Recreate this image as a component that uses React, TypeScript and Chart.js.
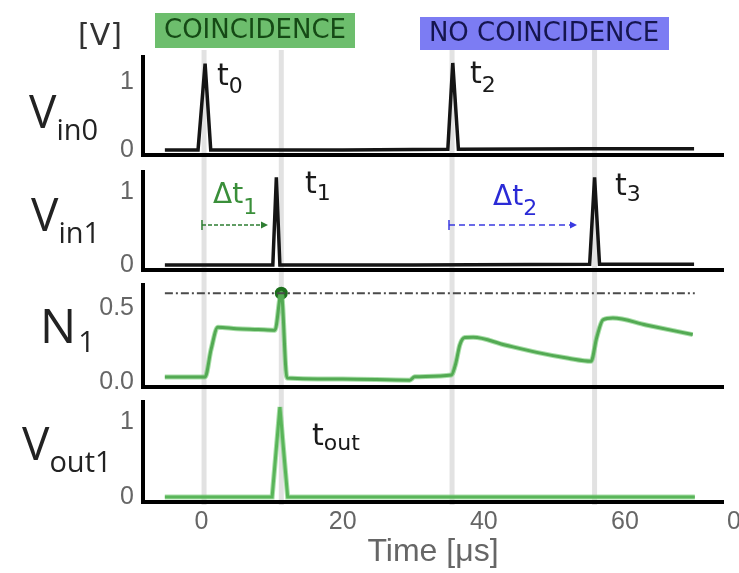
import { useEffect, useRef } from 'react';
import { Chart, registerables } from 'chart.js';

Chart.register(...registerables);

// ---------------- data ----------------
const timeAxisMin = -8.3;
const timeAxisMax = 73.9;
const timeTicks = [0, 20, 40, 60];
// t0, t1, t2, t3 guide lines (µs)
const eventTimes = [0.35, 11.3, 35.5, 55.7];

// V_in0 [V]
const vin0Time = [-5.2, -0.5, 0.5, 1.3, 20, 34.9, 35.6, 36.4, 55, 69.8];
const vin0Volt = [0.0, 0.0, 1.27, 0.0, 0.0, 0.01, 1.28, 0.01, 0.02, 0.02];

// V_in1 [V]
const vin1Time = [-5.2, 10.1, 10.6, 11.1, 30, 55.0, 55.7, 56.4, 69.8];
const vin1Volt = [0.0, 0.0, 1.2, 0.0, 0.0, 0.01, 1.2, 0.01, 0.01];

// N_1 state
const n1Time = [
  -5.2, 0.5, 1.35, 2.3, 5, 8, 10.4, 11.3, 12.1, 20, 29.5, 30.2, 35.4, 36.0, 36.6, 37.3,
  38.5, 43, 47.5, 52, 55.2, 56.0, 56.9, 58.3, 63, 69.6,
];
const n1Value = [
  0.034, 0.034, 0.22, 0.37, 0.36, 0.355, 0.35, 0.6, 0.027, 0.02, 0.012, 0.035, 0.047, 0.12, 0.25, 0.3,
  0.302, 0.25, 0.2, 0.16, 0.14, 0.3, 0.42, 0.432, 0.385, 0.32,
];

// threshold (dash-dot) and threshold crossing dot
const n1ThresholdTime = [-5.2, 69.9];
const n1ThresholdValue = [0.6, 0.6];
const n1CrossTime = [11.3];
const n1CrossValue = [0.6];

// V_out1 [V]
const vout1Time = [-5.2, 10.0, 11.1, 12.2, 69.9];
const vout1Volt = [0.0, 0.0, 1.2, 0.0, 0.0];

const yTicksV = [0, 1];
const yTicksN = [0, 0.5];

// ---------------- layout / style ----------------
const PAGE_W = 739;
const PLOT_LEFT = 143;
const PAD_RIGHT = 16;
const GUIDE_TOP = 50;
const GUIDE_BOTTOM = 505;
const TICK_FONT = "'Liberation Sans', Arial, sans-serif";
const LBL_FONT = "'Open Sans', sans-serif";
const TXT_FONT = "'DejaVu Sans', sans-serif";
const TICK_COLOR = '#666666';
const TICK_SIZE = 25;

const pts = (xs: number[], ys: number[]) => xs.map((x, i) => ({ x, y: ys[i] }));

const black = (data: any) => ({
  data,
  borderColor: '#151515',
  borderWidth: 3.5,
  pointRadius: 0,
  tension: 0,
  fill: false,
});

type Panel = {
  top: number;
  h: number;
  padTop: number;
  padBottom: number;
  yMin: number;
  yMax: number;
  yTicks: number[];
  digits: number;
  xAxisH: number;
  showX: boolean;
  datasets: () => any[];
};

const panels: Panel[] = [
  {
    top: 0, h: 163, padTop: 57, padBottom: 8, yMin: -0.0735, yMax: 1.368, yTicks: yTicksV, digits: 0,
    xAxisH: 0, showX: false,
    datasets: () => [black(pts(vin0Time, vin0Volt))],
  },
  {
    top: 163, h: 115, padTop: 9, padBottom: 8, yMin: -0.068, yMax: 1.274, yTicks: yTicksV, digits: 0,
    xAxisH: 0, showX: false,
    datasets: () => [black(pts(vin1Time, vin1Volt))],
  },
  {
    top: 278, h: 117, padTop: 7, padBottom: 8, yMin: -0.034, yMax: 0.655, yTicks: yTicksN, digits: 1,
    xAxisH: 0, showX: false,
    datasets: () => [
      {
        data: pts(n1ThresholdTime, n1ThresholdValue),
        borderColor: '#4a4a4a', borderWidth: 2, borderDash: [8, 3, 2, 3], pointRadius: 0, fill: false,
      },
      {
        data: pts(n1Time, n1Value),
        borderColor: 'rgba(110,200,110,0.6)', borderWidth: 5, pointRadius: 0, fill: false,
        cubicInterpolationMode: 'monotone',
      },
      {
        data: pts(n1Time, n1Value),
        borderColor: '#2c7d2c', borderWidth: 3, pointRadius: 0, fill: false,
        cubicInterpolationMode: 'monotone',
      },
      {
        data: pts(n1CrossTime, n1CrossValue),
        showLine: false, pointRadius: 6.5, pointBackgroundColor: '#1c6f1c', pointBorderColor: '#1c6f1c',
        pointBorderWidth: 0, clip: false,
      },
    ],
  },
  {
    top: 395, h: 178, padTop: 7, padBottom: 0, yMin: -0.067, yMax: 1.267, yTicks: yTicksV, digits: 0,
    xAxisH: 71, showX: true,
    datasets: () => [
      {
        data: pts(vout1Time, vout1Volt),
        borderColor: 'rgba(110,200,110,0.6)', borderWidth: 5, pointRadius: 0, fill: false, tension: 0,
      },
      {
        data: pts(vout1Time, vout1Volt),
        borderColor: '#3a9a3a', borderWidth: 3, pointRadius: 0, fill: false, tension: 0,
      },
    ],
  },
];

// ---------------- annotation drawing (page coordinates) ----------------
function subText(
  ctx: CanvasRenderingContext2D, base: string, sub: string, x: number, y: number,
  baseFont: string, subFont: string, subDy: number, color: string, gap = 0,
) {
  ctx.fillStyle = color;
  ctx.textAlign = 'left';
  ctx.textBaseline = 'alphabetic';
  ctx.font = baseFont;
  ctx.fillText(base, x, y);
  const w = ctx.measureText(base).width;
  ctx.font = subFont;
  ctx.fillText(sub, x + w + gap, y + subDy);
}

function arrow(ctx: CanvasRenderingContext2D, x1: number, x2: number, y: number, color: string, dash: number[]) {
  ctx.save();
  ctx.strokeStyle = color;
  ctx.fillStyle = color;
  ctx.lineWidth = 1.5;
  ctx.setLineDash(dash);
  ctx.beginPath();
  ctx.moveTo(x1, y);
  ctx.lineTo(x2 - 5, y);
  ctx.stroke();
  ctx.setLineDash([]);
  ctx.beginPath();
  ctx.moveTo(x1, y - 5);
  ctx.lineTo(x1, y + 5);
  ctx.stroke();
  ctx.beginPath();
  ctx.moveTo(x2, y);
  ctx.lineTo(x2 - 7, y - 3.5);
  ctx.lineTo(x2 - 7, y + 3.5);
  ctx.closePath();
  ctx.fill();
  ctx.restore();
}

function drawAnnotations(ctx: CanvasRenderingContext2D) {
  ctx.save();
  // [V]
  ctx.fillStyle = '#333333';
  ctx.font = `30px ${TXT_FONT}`;
  ctx.textAlign = 'left';
  ctx.textBaseline = 'alphabetic';
  ctx.fillText('[V]', 78, 45);

  // label boxes
  ctx.fillStyle = '#6dbe6d';
  ctx.fillRect(155, 13, 200, 35);
  ctx.fillStyle = '#7c7cf3';
  ctx.fillRect(420, 17, 249, 33);
  ctx.textAlign = 'center';
  ctx.textBaseline = 'middle';
  ctx.font = `26px ${TXT_FONT}`;
  ctx.fillStyle = '#154a15';
  ctx.fillText('COINCIDENCE', 255, 31);
  ctx.fillStyle = '#15154f';
  ctx.fillText('NO COINCIDENCE', 544, 34);

  // event labels
  const tFont = `30px ${TXT_FONT}`;
  const sFont = `22px ${TXT_FONT}`;
  const dark = '#1a1a1a';
  subText(ctx, 't', '0', 217, 85, tFont, sFont, 8, dark);
  subText(ctx, 't', '2', 470, 83, tFont, sFont, 9, dark);
  subText(ctx, 't', '1', 305, 193, tFont, sFont, 7, dark);
  subText(ctx, 't', '3', 615, 195, tFont, sFont, 6, dark);
  subText(ctx, 't', 'out', 312, 445, tFont, sFont, 5, dark);

  // delta t labels + arrows
  subText(ctx, 'Δt', '1', 213, 203, `28px ${TXT_FONT}`, `22px ${TXT_FONT}`, 11, '#3a8f3a');
  subText(ctx, 'Δt', '2', 493, 205, `28px ${TXT_FONT}`, `22px ${TXT_FONT}`, 10, '#2b2bd6');
  arrow(ctx, 202, 268, 225, '#2e7d32', [4, 2]);
  arrow(ctx, 449, 577, 225, '#3a3ae0', [6, 4]);

  // panel labels
  const lc = '#222222';
  subText(ctx, 'V', 'in0', 29, 128, `46px ${LBL_FONT}`, `29px ${LBL_FONT}`, 12, lc);
  subText(ctx, 'V', 'in1', 31, 231, `46px ${LBL_FONT}`, `29px ${LBL_FONT}`, 12, lc);
  subText(ctx, 'N', '1', 40, 343, `48px ${LBL_FONT}`, `29px ${LBL_FONT}`, 9, lc, 2);
  subText(ctx, 'V', 'out1', 22, 460, `46px ${LBL_FONT}`, `29px ${LBL_FONT}`, 12, lc);

  // clipped tick fragment at right edge
  ctx.fillStyle = TICK_COLOR;
  ctx.font = `${TICK_SIZE}px ${TICK_FONT}`;
  ctx.textAlign = 'left';
  ctx.textBaseline = 'middle';
  ctx.fillText('0', 727, 522);
  ctx.restore();
}

function makePlugin(p: Panel) {
  return {
    id: 'panelDecor',
    beforeDraw(chart: any) {
      const ctx = chart.ctx as CanvasRenderingContext2D;
      const xs = chart.scales.x;
      const y0 = Math.max(0, GUIDE_TOP - p.top);
      const y1 = Math.min(p.h, GUIDE_BOTTOM - p.top);
      ctx.save();
      ctx.strokeStyle = '#e2e2e2';
      ctx.lineWidth = 5;
      for (const t of eventTimes) {
        const x = xs.getPixelForValue(t);
        ctx.beginPath();
        ctx.moveTo(x, y0);
        ctx.lineTo(x, y1);
        ctx.stroke();
      }
      ctx.restore();
    },
    afterDraw(chart: any) {
      const ctx = chart.ctx as CanvasRenderingContext2D;
      ctx.save();
      ctx.translate(0, -p.top);
      drawAnnotations(ctx);
      ctx.restore();
    },
  };
}

function makeConfig(p: Panel): any {
  return {
    type: 'line',
    data: { datasets: p.datasets() },
    options: {
      animation: false,
      responsive: false,
      maintainAspectRatio: false,
      events: [],
      layout: { padding: { top: p.padTop, bottom: p.padBottom, left: 0, right: PAD_RIGHT } },
      plugins: { legend: { display: false }, tooltip: { enabled: false } },
      scales: {
        x: {
          type: 'linear',
          min: timeAxisMin,
          max: timeAxisMax,
          grid: { display: false, drawTicks: false },
          border: { display: true, color: '#000000', width: 4 },
          ticks: {
            display: p.showX,
            color: TICK_COLOR,
            font: { family: TICK_FONT, size: TICK_SIZE },
            padding: 5,
            maxRotation: 0,
          },
          title: {
            display: p.showX,
            text: 'Time [μs]',
            color: TICK_COLOR,
            font: { family: TICK_FONT, size: 32, lineHeight: 1.2 },
            padding: { top: 0, bottom: 2 },
          },
          afterBuildTicks: (s: any) => {
            s.ticks = timeTicks.map((v) => ({ value: v }));
          },
          afterFit: (s: any) => {
            s.height = p.xAxisH;
            s.paddingLeft = 0;
            s.paddingRight = 0;
          },
        },
        y: {
          type: 'linear',
          min: p.yMin,
          max: p.yMax,
          grid: { display: false, drawTicks: false },
          border: { display: true, color: '#000000', width: 4 },
          ticks: {
            color: TICK_COLOR,
            font: { family: TICK_FONT, size: TICK_SIZE },
            padding: 9,
            callback: (v: number) => Number(v).toFixed(p.digits),
          },
          afterBuildTicks: (s: any) => {
            s.ticks = p.yTicks.map((v) => ({ value: v }));
          },
          afterFit: (s: any) => {
            s.width = PLOT_LEFT;
            s.paddingTop = 0;
            s.paddingBottom = 0;
          },
        },
      },
    },
    plugins: [makePlugin(p)],
  };
}

export default function App() {
  const r0 = useRef<HTMLCanvasElement | null>(null);
  const r1 = useRef<HTMLCanvasElement | null>(null);
  const r2 = useRef<HTMLCanvasElement | null>(null);
  const r3 = useRef<HTMLCanvasElement | null>(null);
  const refs = [r0, r1, r2, r3];

  useEffect(() => {
    const charts = panels.map((p, i) => new Chart(refs[i].current as HTMLCanvasElement, makeConfig(p)));
    return () => charts.forEach((c) => c.destroy());
  }, []);

  return (
    <div style={{ position: 'absolute', left: 0, top: 0, width: PAGE_W, height: 573, background: '#ffffff' }}>
      {panels.map((p, i) => (
        <canvas
          key={i}
          ref={refs[i]}
          width={PAGE_W}
          height={p.h}
          style={{ position: 'absolute', left: 0, top: p.top, display: 'block', width: PAGE_W, height: p.h }}
        />
      ))}
    </div>
  );
}
